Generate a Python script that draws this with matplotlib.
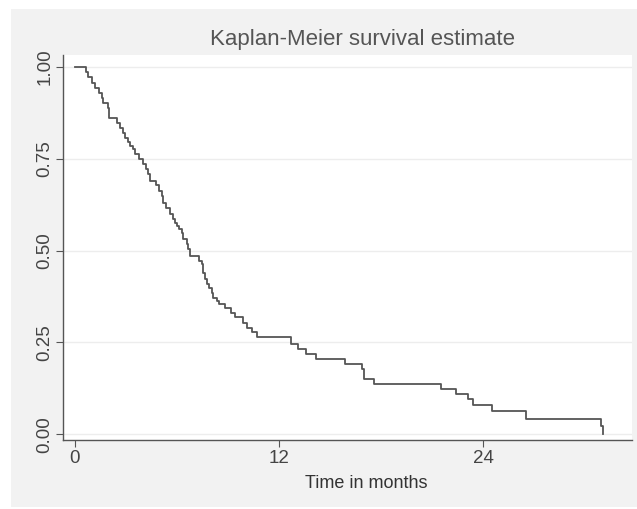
import matplotlib.pyplot as plt
from matplotlib.patches import Rectangle

# step points of the Kaplan-Meier curve: time of drop (months), survival after the drop
time = [0.0, 0.65, 0.75, 1.0, 1.18, 1.43, 1.57, 1.67, 1.96, 2.02, 2.45, 2.65, 2.84,
        2.94, 3.14, 3.24, 3.43, 3.53, 3.75, 4.02, 4.15, 4.31, 4.41, 4.75, 4.96,
        5.1, 5.2, 5.35, 5.59, 5.75, 5.88, 5.98, 6.14, 6.27, 6.37, 6.57, 6.67,
        6.78, 7.3, 7.5, 7.55, 7.65, 7.75, 7.9, 8.04, 8.14, 8.33, 8.49, 8.82,
        9.2, 9.4, 9.9, 10.1, 10.4, 10.7, 12.7, 13.1, 13.6, 14.2, 15.9, 16.85,
        17.0, 17.6, 21.5, 22.4, 23.1, 23.4, 24.5, 26.5, 30.95, 31.05]
surv = [1.0, 0.986, 0.972, 0.958, 0.944, 0.930, 0.916, 0.902, 0.888, 0.862, 0.848,
        0.834, 0.820, 0.806, 0.797, 0.785, 0.776, 0.763, 0.749, 0.735, 0.722,
        0.708, 0.690, 0.680, 0.663, 0.649, 0.630, 0.617, 0.600, 0.585, 0.576,
        0.567, 0.558, 0.549, 0.531, 0.518, 0.504, 0.485, 0.472, 0.463, 0.440,
        0.422, 0.408, 0.399, 0.385, 0.372, 0.363, 0.354, 0.344, 0.331, 0.318,
        0.304, 0.290, 0.277, 0.265, 0.245, 0.232, 0.218, 0.205, 0.190, 0.177,
        0.150, 0.136, 0.122, 0.109, 0.095, 0.080, 0.063, 0.041, 0.022, 0.0]

xticks = [0, 12, 24]
yticks = [0.0, 0.25, 0.5, 0.75, 1.0]
ytick_labels = ["0.00", "0.25", "0.50", "0.75", "1.00"]

plt.rcParams['font.family'] = ['Liberation Sans', 'DejaVu Sans']

fig = plt.figure(figsize=(6.37, 5.09), dpi=100, facecolor='white')
# grey backdrop like the Stata graph region
backdrop = Rectangle((11/637, 2/509), 1 - 11/637, 500/509 - 2/509,
                     transform=fig.transFigure, facecolor='#f2f2f2',
                     edgecolor='none', zorder=-10)
fig.add_artist(backdrop)

ax = fig.add_axes([63/637, 69/509, 569/637, 385/509])
ax.set_zorder(5)
ax.set_facecolor('white')

ax.step(time, surv, where='post', color='#555555', linewidth=1.3)

ax.set_xlim(-0.7, 32.75)
ax.set_ylim(-0.016, 1.033)
ax.set_xticks(xticks)
ax.set_yticks(yticks)
ax.set_yticklabels(ytick_labels, rotation=90, va='center')
ax.grid(axis='y', color='#ededed', linewidth=1)
ax.set_axisbelow(True)

for s in ['top', 'right']:
    ax.spines[s].set_visible(False)
for s in ['left', 'bottom']:
    ax.spines[s].set_color('#555555')
    ax.spines[s].set_linewidth(1.0)
ax.tick_params(colors='#555555', labelcolor='#444444', labelsize=13.5, length=5,
               direction='out')
ax.tick_params(axis='x', pad=2)
ax.tick_params(axis='y', pad=2)

ax.set_xlabel('Time in months', fontsize=13, color='#333333')
ax.xaxis.set_label_coords((366 - 63) / 569, -35 / 385)

fig.text(363/637, 1 - 40/509, 'Kaplan-Meier survival estimate', ha='center',
         va='center', fontsize=16, color='#555555', zorder=6)

fig.savefig('out.png', dpi=100, facecolor=fig.get_facecolor())
